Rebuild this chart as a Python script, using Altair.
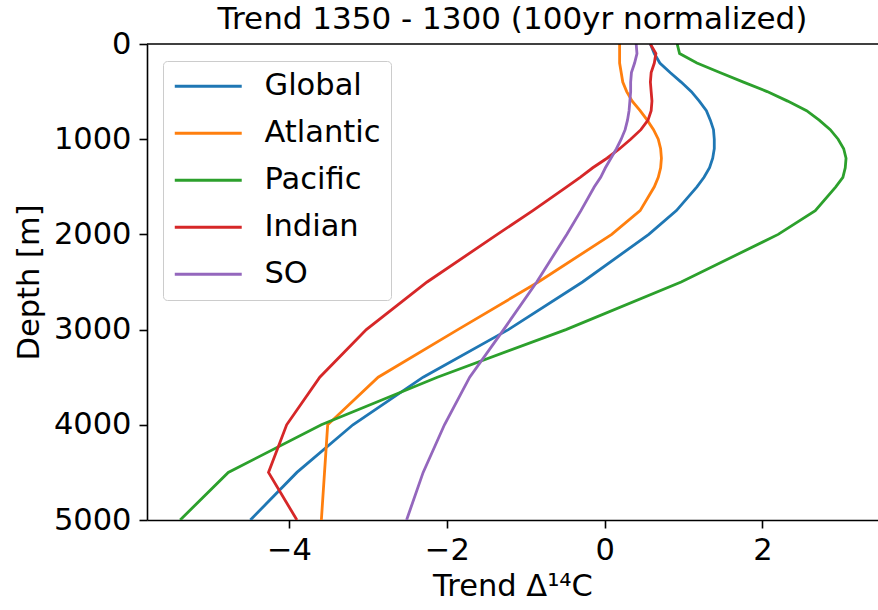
import altair as alt
import pandas as pd

# Depth levels [m] and the 100-yr normalized Δ14C trend for each ocean basin
depth_m = [0, 100, 200, 300, 400, 500, 600, 700, 800, 900, 1000, 1100, 1200,
           1300, 1400, 1500, 1750, 2000, 2500, 3000, 3500, 4000, 4500, 5000]

global_trend = [0.58, 0.63, 0.70, 0.83, 0.97, 1.10, 1.20, 1.29, 1.34, 1.38, 1.39, 1.39,
                1.37, 1.33, 1.26, 1.17, 0.91, 0.56, -0.28, -1.22, -2.30, -3.19, -3.90, -4.49]
atlantic_trend = [0.19, 0.19, 0.19, 0.21, 0.23, 0.28, 0.35, 0.45, 0.54, 0.62, 0.68, 0.71,
                  0.72, 0.71, 0.68, 0.63, 0.45, 0.09, -0.84, -1.86, -2.87, -3.51, -3.55, -3.59]
pacific_trend = [0.92, 0.95, 1.17, 1.46, 1.76, 2.06, 2.32, 2.56, 2.72, 2.86, 2.96, 3.03,
                 3.06, 3.05, 3.02, 2.93, 2.67, 2.20, 0.97, -0.49, -2.12, -3.59, -4.77, -5.38]
indian_trend = [0.58, 0.65, 0.63, 0.59, 0.58, 0.59, 0.60, 0.59, 0.55, 0.46, 0.33, 0.19,
                0.03, -0.15, -0.31, -0.48, -0.91, -1.36, -2.25, -3.02, -3.61, -4.03, -4.26, -3.90]
so_trend = [0.40, 0.41, 0.38, 0.34, 0.33, 0.33, 0.32, 0.31, 0.29, 0.26, 0.21, 0.15,
            0.08, 0.01, -0.05, -0.13, -0.30, -0.48, -0.86, -1.28, -1.71, -2.03, -2.30, -2.51]

oceans = ["Global", "Atlantic", "Pacific", "Indian", "SO"]
colors = ["#1f77b4", "#ff7f0e", "#2ca02c", "#d62728", "#9467bd"]
series = [global_trend, atlantic_trend, pacific_trend, indian_trend, so_trend]

x_ticks = [-4, -2, 0, 2]
y_ticks = [0, 1000, 2000, 3000, 4000, 5000]

rows = []
for name, values in zip(oceans, series):
    for d, v in zip(depth_m, values):
        rows.append({"ocean": name, "depth": d, "trend": v})
df = pd.DataFrame(rows)

FONT = "DejaVu Sans"
FS = 30.5

x_scale = alt.Scale(domain=[-5.80, 3.465], nice=False, zero=False)
y_scale = alt.Scale(domain=[0, 5000], reverse=True, nice=False, zero=False)

profiles = alt.Chart(df).mark_line(strokeWidth=2.8, clip=True).encode(
    x=alt.X(
        "trend:Q",
        scale=x_scale,
        axis=alt.Axis(values=x_ticks, format="d", title="Trend Δ¹⁴C",
                      labelPadding=7, titlePadding=6),
    ),
    y=alt.Y(
        "depth:Q",
        scale=y_scale,
        axis=alt.Axis(values=y_ticks, format="d", title="Depth [m]",
                      labelPadding=8, titlePadding=9),
    ),
    color=alt.Color(
        "ocean:N",
        scale=alt.Scale(domain=oceans, range=colors),
        sort=oceans,
        legend=alt.Legend(
            title=None,
            orient="none",
            legendX=16,
            legendY=17,
            symbolType="M-2.48,0L2.48,0",
            symbolSize=729,
            symbolStrokeWidth=2.8,
            symbolOffset=20,
            labelOffset=41,
            labelFont=FONT,
            labelFontSize=FS,
            labelColor="black",
            padding=10,
            rowPadding=16,
            strokeColor="#cccccc",
            fillColor="white",
            cornerRadius=4,
        ),
    ),
    order=alt.Order("depth:Q"),
)

# top spine of the axes frame
top_spine = alt.Chart(alt.Data(values=[{}])).mark_rule(
    color="black", strokeWidth=1.6
).encode(
    x=alt.value(0),
    x2=alt.value("width"),
    y=alt.value(0),
)

chart = alt.layer(profiles, top_spine).properties(
    width=731,
    height=476,
    title=alt.TitleParams(
        "Trend 1350 - 1300 (100yr normalized)",
        font=FONT, fontSize=31, fontWeight="normal", color="black",
        anchor="middle", offset=6, dy=13,
    ),
    padding={"left": 147, "top": 44, "right": 0, "bottom": 90},
    autosize=alt.AutoSizeParams(type="none"),
).configure(
    font=FONT,
).configure_view(
    stroke=None,
).configure_axis(
    grid=False,
    domainColor="black",
    domainWidth=1.6,
    tickColor="black",
    tickWidth=1.6,
    tickSize=8,
    labelFont=FONT,
    labelFontSize=FS,
    labelColor="black",
    titleFont=FONT,
    titleFontSize=FS,
    titleFontWeight="normal",
    titleColor="black",
)

chart.save("out.html", embed_options={"renderer": "svg", "actions": False})
